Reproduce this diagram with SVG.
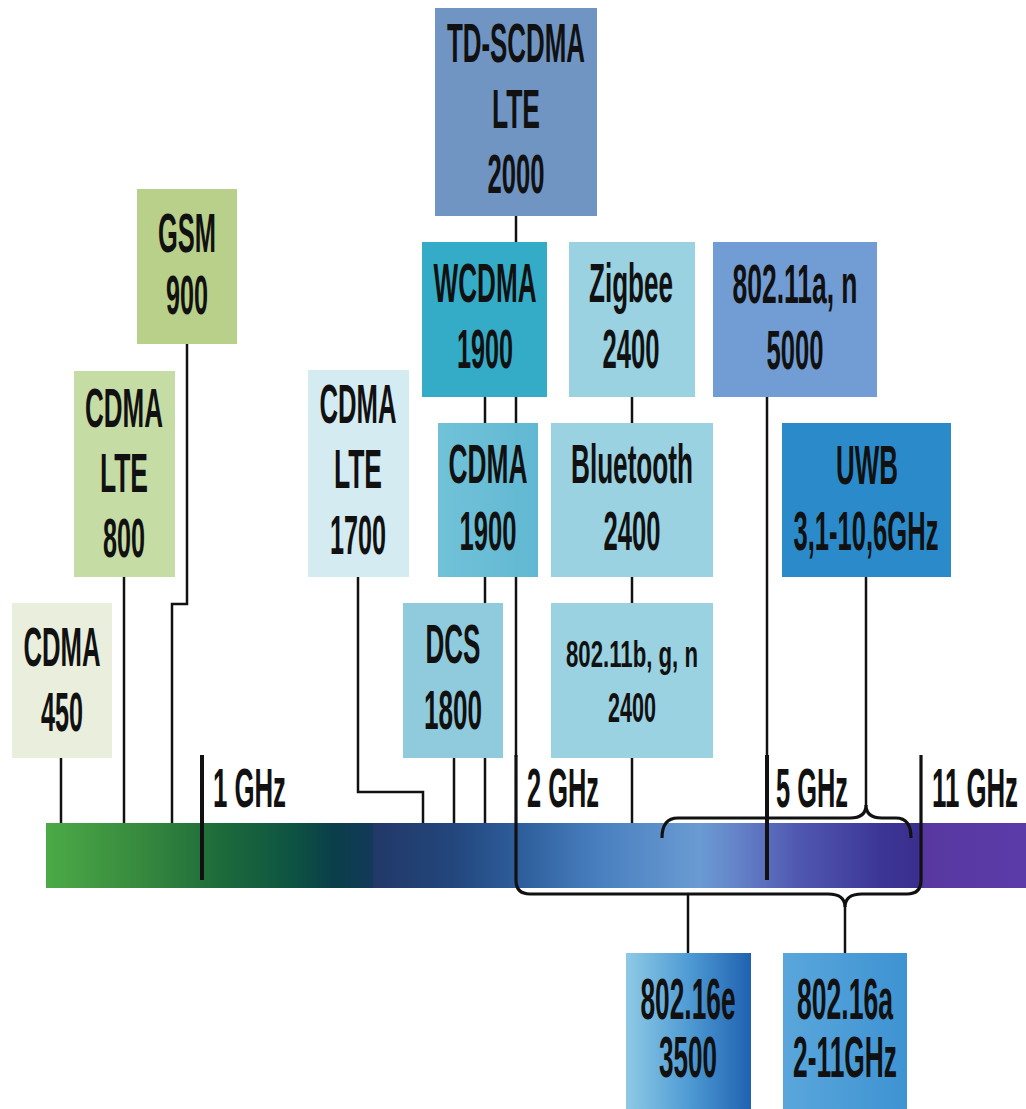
<svg xmlns="http://www.w3.org/2000/svg" width="1026" height="1109" viewBox="0 0 1026 1109">
<defs>
<linearGradient id="barL" x1="0" y1="0" x2="1" y2="0">
<stop offset="0" stop-color="#4caa46"/>
<stop offset="0.3" stop-color="#36883e"/>
<stop offset="0.52" stop-color="#1e6c3a"/>
<stop offset="0.75" stop-color="#0e5442"/>
<stop offset="0.88" stop-color="#0a3e4a"/>
<stop offset="1" stop-color="#13395a"/>
</linearGradient>
<linearGradient id="barR" x1="0" y1="0" x2="1" y2="0">
<stop offset="0" stop-color="#223868"/>
<stop offset="0.12" stop-color="#22467c"/>
<stop offset="0.225" stop-color="#2e5e9c"/>
<stop offset="0.35" stop-color="#4a80c0"/>
<stop offset="0.5" stop-color="#6a9bd2"/>
<stop offset="0.56" stop-color="#6482c8"/>
<stop offset="0.65" stop-color="#5058b0"/>
<stop offset="0.78" stop-color="#3c3596"/>
<stop offset="0.835" stop-color="#3a2f8e"/>
<stop offset="0.845" stop-color="#5838a0"/>
<stop offset="1" stop-color="#5b3ba8"/>
</linearGradient>
<linearGradient id="g16e" x1="0" y1="0" x2="1" y2="0">
<stop offset="0" stop-color="#8ecae6"/>
<stop offset="0.5" stop-color="#4f9bd4"/>
<stop offset="1" stop-color="#1f62b0"/>
</linearGradient>
<linearGradient id="g16a" x1="0" y1="0" x2="1" y2="0">
<stop offset="0" stop-color="#5aa6dc"/>
<stop offset="1" stop-color="#3e93d2"/>
</linearGradient>
<linearGradient id="gc19" x1="0" y1="0" x2="1" y2="0">
<stop offset="0" stop-color="#70c2d8"/>
<stop offset="1" stop-color="#62b8d2"/>
</linearGradient>
</defs>
<style>
text{font-family:"Liberation Sans Narrow","Liberation Sans",Arial,sans-serif;font-weight:bold;font-size:55px;fill:#111;text-anchor:middle}
text.s{font-size:36px}
text.m{font-size:42px}
text.l{font-size:58px}
text.g{text-anchor:start}
.ln{fill:none;stroke:#111;stroke-width:2.5}
.tk{fill:none;stroke:#111;stroke-width:4}
.br{fill:none;stroke:#111;stroke-width:3.2}
</style>
<rect x="0" y="0" width="1026" height="1109" fill="#ffffff"/>
<g id="bar">
<rect x="46" y="823" width="328" height="65" fill="url(#barL)"/>
<rect x="373" y="823" width="653" height="65" fill="url(#barR)"/>
</g>
<g id="connectors">
<path class="ln" d="M516,216V242"/>
<path class="ln" d="M485,397V423M516,397V423"/>
<path class="ln" d="M485,577V603"/>
<path class="ln" d="M454,758V823M485,758V823"/>
<path class="ln" d="M632,397V423M632,577V603M632,758V823"/>
<path class="ln" d="M61,758V823"/>
<path class="ln" d="M124,577V823"/>
<path class="ln" d="M187,344V604H172V823"/>
<path class="ln" d="M358,577V792H423V823"/>
<path class="ln" d="M516,577V757"/>
<path class="ln" d="M767,397V757"/>
<path class="ln" d="M866,577V806"/>
<path class="ln" d="M688,894V953"/>
<path class="ln" d="M845,906V953"/>
<path class="tk" d="M202,755V880"/>
<path class="tk" d="M767,755V880"/>
<path class="br" d="M516,755V880Q516,894 530,894H828Q845,894 845,907Q845,894 862,894H907Q921,894 921,880V755"/>
<path class="br" d="M662,838Q662,818 678,818H850Q866,818 866,805Q866,818 882,818H896Q911,818 911,838"/>
</g>
<g id="axis-labels">
<text class="g" x="213" y="807" textLength="73" lengthAdjust="spacingAndGlyphs">1 GHz</text>
<text class="g" x="527" y="807" textLength="72" lengthAdjust="spacingAndGlyphs">2 GHz</text>
<text class="g" x="776" y="807" textLength="72" lengthAdjust="spacingAndGlyphs">5 GHz</text>
<text class="g" x="932" y="807" textLength="86" lengthAdjust="spacingAndGlyphs">11 GHz</text>
</g>
<g id="td-scdma">
<rect x="435" y="8" width="162" height="208" fill="#7095c3"/>
<text x="516" y="62" textLength="138" lengthAdjust="spacingAndGlyphs">TD-SCDMA</text>
<text x="516" y="128" textLength="48" lengthAdjust="spacingAndGlyphs">LTE</text>
<text x="516" y="193" textLength="57" lengthAdjust="spacingAndGlyphs">2000</text>
</g>
<g id="gsm">
<rect x="137" y="189" width="100" height="155" fill="#b8d08a"/>
<text x="187" y="252" textLength="58" lengthAdjust="spacingAndGlyphs">GSM</text>
<text x="187" y="314" textLength="42" lengthAdjust="spacingAndGlyphs">900</text>
</g>
<g id="cdma-lte-800">
<rect x="74" y="371" width="101" height="206" fill="#c6dca5"/>
<text x="124" y="427" textLength="78" lengthAdjust="spacingAndGlyphs">CDMA</text>
<text x="124" y="492" textLength="48" lengthAdjust="spacingAndGlyphs">LTE</text>
<text x="124" y="557" textLength="42" lengthAdjust="spacingAndGlyphs">800</text>
</g>
<g id="cdma-450">
<rect x="12" y="603" width="100" height="155" fill="#eaeedd"/>
<text x="62" y="666" textLength="77" lengthAdjust="spacingAndGlyphs">CDMA</text>
<text x="62" y="731" textLength="42" lengthAdjust="spacingAndGlyphs">450</text>
</g>
<g id="cdma-lte-1700">
<rect x="308" y="370" width="101" height="207" fill="#d5ebf2"/>
<text x="358" y="423" textLength="77" lengthAdjust="spacingAndGlyphs">CDMA</text>
<text x="358" y="488" textLength="48" lengthAdjust="spacingAndGlyphs">LTE</text>
<text x="358" y="554" textLength="56" lengthAdjust="spacingAndGlyphs">1700</text>
</g>
<g id="wcdma-1900">
<rect x="422" y="242" width="125" height="155" fill="#35acc7"/>
<text x="485" y="302" textLength="103" lengthAdjust="spacingAndGlyphs">WCDMA</text>
<text x="485" y="368" textLength="56" lengthAdjust="spacingAndGlyphs">1900</text>
</g>
<g id="zigbee-2400">
<rect x="569" y="242" width="126" height="155" fill="#9ad2e1"/>
<text x="631" y="302" textLength="84" lengthAdjust="spacingAndGlyphs">Zigbee</text>
<text x="631" y="368" textLength="57" lengthAdjust="spacingAndGlyphs">2400</text>
</g>
<g id="wifi-5000">
<rect x="713" y="242" width="164" height="155" fill="#729dd4"/>
<text x="795" y="303" textLength="125" lengthAdjust="spacingAndGlyphs">802.11a, n</text>
<text x="795" y="369" textLength="57" lengthAdjust="spacingAndGlyphs">5000</text>
</g>
<g id="cdma-1900">
<rect x="438" y="423" width="100" height="154" fill="url(#gc19)"/>
<text x="488" y="483" textLength="79" lengthAdjust="spacingAndGlyphs">CDMA</text>
<text x="488" y="550" textLength="57" lengthAdjust="spacingAndGlyphs">1900</text>
</g>
<g id="bluetooth-2400">
<rect x="551" y="423" width="162" height="154" fill="#9ad2e1"/>
<text x="632" y="483" textLength="122" lengthAdjust="spacingAndGlyphs">Bluetooth</text>
<text x="632" y="550" textLength="57" lengthAdjust="spacingAndGlyphs">2400</text>
</g>
<g id="uwb">
<rect x="782" y="423" width="169" height="154" fill="#2b8bca"/>
<text x="867" y="484" textLength="62" lengthAdjust="spacingAndGlyphs">UWB</text>
<text x="866" y="550" textLength="145" lengthAdjust="spacingAndGlyphs">3,1-10,6GHz</text>
</g>
<g id="dcs-1800">
<rect x="403" y="603" width="100" height="155" fill="#8fcbdd"/>
<text x="453" y="663" textLength="55" lengthAdjust="spacingAndGlyphs">DCS</text>
<text x="453" y="729" textLength="58" lengthAdjust="spacingAndGlyphs">1800</text>
</g>
<g id="wifi-2400">
<rect x="551" y="603" width="162" height="155" fill="#9ad2e1"/>
<text class="s" x="632" y="667" textLength="132" lengthAdjust="spacingAndGlyphs">802.11b, g, n</text>
<text class="m" x="632" y="722" textLength="48" lengthAdjust="spacingAndGlyphs">2400</text>
</g>
<g id="wimax-3500">
<rect x="626" y="953" width="125" height="156" fill="url(#g16e)"/>
<text class="l" x="688" y="1019" textLength="95" lengthAdjust="spacingAndGlyphs">802.16e</text>
<text class="l" x="688" y="1077" textLength="58" lengthAdjust="spacingAndGlyphs">3500</text>
</g>
<g id="wimax-2-11">
<rect x="783" y="953" width="124" height="156" fill="url(#g16a)"/>
<text class="l" x="845" y="1019" textLength="96" lengthAdjust="spacingAndGlyphs">802.16a</text>
<text class="l" x="845" y="1077" textLength="104" lengthAdjust="spacingAndGlyphs">2-11GHz</text>
</g>
</svg>
